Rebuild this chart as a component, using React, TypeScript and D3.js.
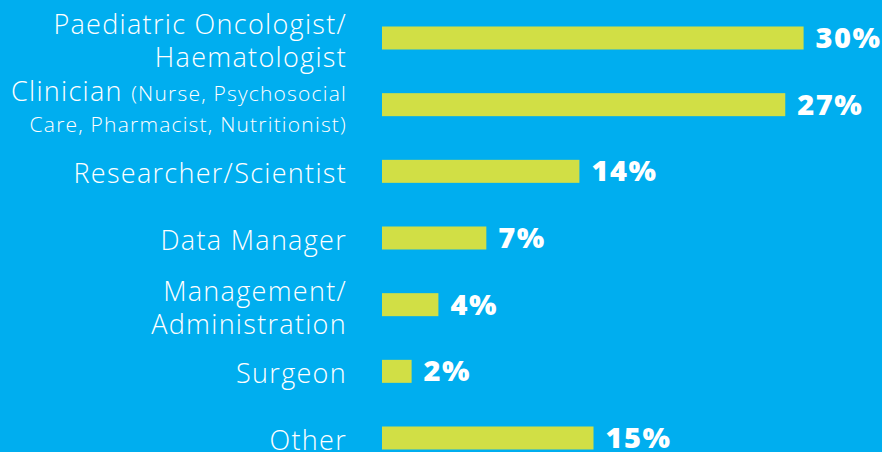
import React from "react";
import * as d3 from "d3";

const categories: string[][] = [
  ["Paediatric Oncologist/", "Haematologist"],
  ["Clinician", "Care, Pharmacist, Nutritionist)"],
  ["Researcher/Scientist"],
  ["Data Manager"],
  ["Management/", "Administration"],
  ["Surgeon"],
  ["Other"],
];
const clinicianSub = "(Nurse, Psychosocial";
const values: number[] = [29.9, 28.6, 14.0, 7.4, 4.0, 2.1, 15.0];
const valueLabels: string[] = ["30%", "27%", "14%", "7%", "4%", "2%", "15%"];

const W = 882;
const H = 452;
const BG = "#00AEEF";
const BAR = "#D1DF45";
const LABEL_FONT = "'Open Sans', 'DejaVu Sans', sans-serif";

export default function App() {
  const idx = d3.range(values.length).map(String);
  const y = d3.scalePoint<string>().domain(idx).range([38, 438]);
  const x = d3.scaleLinear().domain([0, 30]).range([382, 805]);
  const bh = 23;
  const labelRight = 347;
  const catSize = 27;
  const catLs = 1.3;
  const subSize = 21;
  const subLs = 1.2;

  return (
    <svg
      width={W}
      height={H}
      style={{ position: "fixed", left: 0, top: 0, display: "block" }}
    >
      <rect x={0} y={0} width={W} height={H} fill={BG} />
      {values.map((v, i) => {
        const cy = y(String(i))!;
        const lines = categories[i];
        return (
          <g key={i}>
            <rect x={x(0)} y={cy - bh / 2} width={x(v) - x(0)} height={bh} fill={BAR} />
            <text
              x={x(v) + 12}
              y={cy + 10}
              fill="#fff"
              fontFamily={LABEL_FONT}
              fontWeight={800}
              fontSize={29}
              letterSpacing={1.5}
            >
              {valueLabels[i]}
            </text>
            {i === 1 ? (
              <g>
                <text
                  x={labelRight}
                  y={cy - 4}
                  textAnchor="end"
                  fill="#fff"
                  fontFamily={LABEL_FONT}
                  fontWeight={300}
                  fontSize={catSize}
                  letterSpacing={catLs}
                >
                  <tspan>{lines[0]} </tspan>
                  <tspan fontSize={subSize} letterSpacing={subLs}>{clinicianSub}</tspan>
                </text>
                <text
                  x={labelRight}
                  y={cy + 27}
                  textAnchor="end"
                  fill="#fff"
                  fontFamily={LABEL_FONT}
                  fontWeight={300}
                  fontSize={subSize}
                  letterSpacing={subLs}
                >
                  {lines[1]}
                </text>
              </g>
            ) : lines.length === 2 ? (
              lines.map((t, j) => (
                <text
                  key={j}
                  x={labelRight}
                  y={cy - 4 + j * 33}
                  textAnchor="end"
                  fill="#fff"
                  fontFamily={LABEL_FONT}
                  fontWeight={300}
                  fontSize={catSize}
                  letterSpacing={catLs}
                >
                  {t}
                </text>
              ))
            ) : (
              <text
                x={labelRight}
                y={cy + 12}
                textAnchor="end"
                fill="#fff"
                fontFamily={LABEL_FONT}
                fontWeight={300}
                fontSize={catSize}
                letterSpacing={catLs}
              >
                {lines[0]}
              </text>
            )}
          </g>
        );
      })}
    </svg>
  );
}
